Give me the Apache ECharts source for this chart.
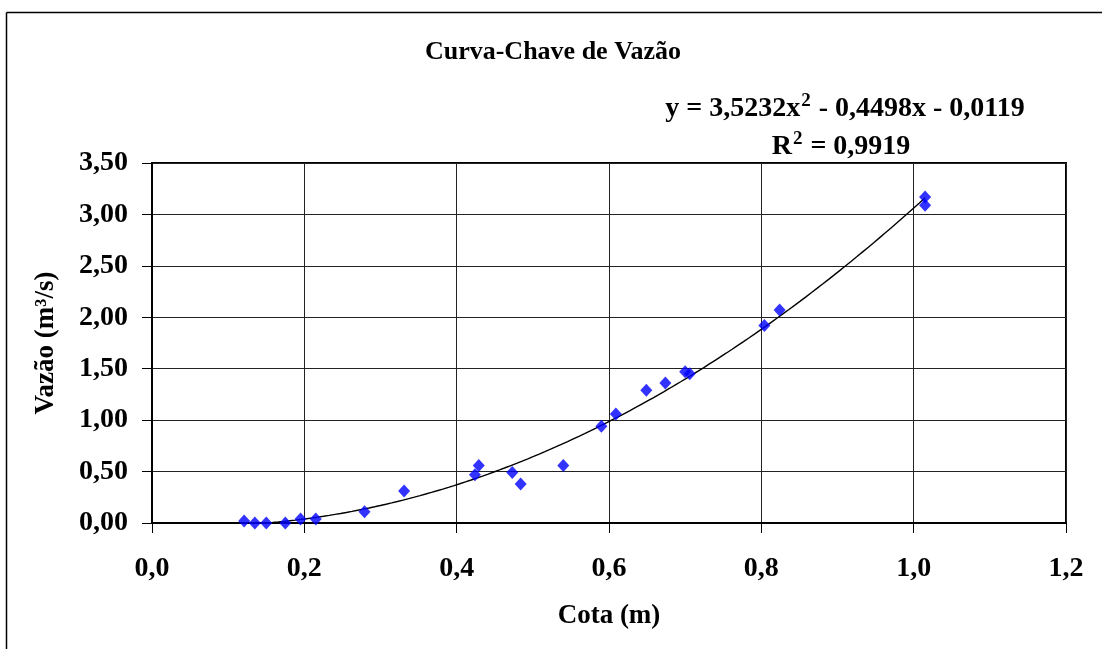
<!DOCTYPE html>
<html>
<head>
<meta charset="utf-8">
<script src="https://cdn.jsdelivr.net/npm/echarts@6/dist/echarts.min.js"></script>
<style>
  html, body { margin: 0; padding: 0; background: #fff; }
  #chart { width: 1102px; height: 649px; }
</style>
</head>
<body>
<div id="chart"></div>
<script>
// Measured stage (m) and discharge (m³/s)
const cota = [0.121, 0.135, 0.150, 0.175, 0.195, 0.215, 0.279, 0.331, 0.424, 0.429,
              0.473, 0.484, 0.540, 0.590, 0.609, 0.649, 0.674, 0.700, 0.706, 0.804,
              0.824, 1.015, 1.015];
const vazao = [0.02, 0.00, 0.00, 0.00, 0.04, 0.04, 0.11, 0.31, 0.47, 0.56,
               0.49, 0.38, 0.56, 0.94, 1.06, 1.29, 1.36, 1.47, 1.45, 1.92,
               2.07, 3.17, 3.09];
// Polynomial trend: y = a x² + b x + c
const trendCoef = [3.5232, -0.4498, -0.0119];
const r2 = 0.9919;
const xTicks = [0, 0.2, 0.4, 0.6, 0.8, 1.0, 1.2];
const yTicks = [0, 0.5, 1.0, 1.5, 2.0, 2.5, 3.0, 3.5];

const FONT = 'Liberation Serif';
const fmt = (v, d) => v.toFixed(d).replace('.', ',');

const xMin = Math.min(...cota), xMax = Math.max(...cota);
const trend = [];
const steps = 120;
for (let i = 0; i <= steps; i++) {
  const x = xMin + (xMax - xMin) * i / steps;
  trend.push([x, trendCoef[0] * x * x + trendCoef[1] * x + trendCoef[2]]);
}

const sign = v => (v < 0 ? ' - ' : ' + ');
const eqText = 'y = ' + fmt(trendCoef[0], 4) + 'x{sup|2}' +
  sign(trendCoef[1]) + fmt(Math.abs(trendCoef[1]), 4) + 'x' +
  sign(trendCoef[2]) + fmt(Math.abs(trendCoef[2]), 4);
const r2Text = 'R{sup|2} = ' + fmt(r2, 4);

const baseText = { fontFamily: FONT, fontWeight: 'bold', color: '#000' };
const rich = {
  sup: { fontFamily: FONT, fontWeight: 'bold', fontSize: 19, color: '#000', verticalAlign: 'top', padding: [0, 1, 14, 1] }
};

const chart = echarts.init(document.getElementById('chart'), null, { renderer: 'canvas' });
chart.setOption({
  backgroundColor: '#fff',
  animation: false,
  title: [
    { text: 'Curva-Chave de Vazão', left: 548, top: 34, textAlign: 'center',
      textStyle: Object.assign({ fontSize: 26 }, baseText) },
    { text: eqText, left: 840, top: 87, textAlign: 'center',
      textStyle: Object.assign({ fontSize: 28, rich: rich }, baseText) },
    { text: r2Text, left: 836, top: 125, textAlign: 'center',
      textStyle: Object.assign({ fontSize: 28, rich: rich }, baseText) }
  ],
  graphic: [
    { type: 'line', shape: { x1: 6.5, y1: 12.5, x2: 1102, y2: 12.5 }, style: { stroke: '#000', lineWidth: 1.5 } },
    { type: 'line', shape: { x1: 6.5, y1: 12.5, x2: 6.5, y2: 649 }, style: { stroke: '#000', lineWidth: 1.5 } }
  ],
  grid: {
    left: 152, right: 36, top: 163, bottom: 126,
    show: true, borderColor: '#000', borderWidth: 2, backgroundColor: '#fff'
  },
  xAxis: {
    type: 'value', min: xTicks[0], max: xTicks[xTicks.length - 1], interval: 0.2,
    name: 'Cota (m)', nameLocation: 'middle', nameGap: 80,
    nameTextStyle: Object.assign({ fontSize: 27 }, baseText),
    axisLine: { show: true, lineStyle: { color: '#000', width: 2 } },
    axisTick: { show: true, length: 10, lineStyle: { color: '#000', width: 1 } },
    axisLabel: Object.assign({ fontSize: 28, margin: 32, formatter: v => fmt(v, 1) }, baseText),
    splitLine: { show: true, lineStyle: { color: '#222', width: 1 } }
  },
  yAxis: {
    type: 'value', min: yTicks[0], max: yTicks[yTicks.length - 1], interval: 0.5,
    name: 'Vazão (m³/s)', nameLocation: 'middle', nameGap: 92, nameRotate: 90,
    nameTextStyle: Object.assign({ fontSize: 27 }, baseText),
    axisLine: { show: true, lineStyle: { color: '#000', width: 2 } },
    axisTick: { show: true, length: 10, lineStyle: { color: '#000', width: 1 } },
    axisLabel: Object.assign({ fontSize: 28, margin: 24, formatter: v => fmt(v, 2) }, baseText),
    splitLine: { show: true, lineStyle: { color: '#222', width: 1 } }
  },
  series: [
    {
      type: 'line', data: trend, showSymbol: false, symbol: 'none', smooth: false,
      lineStyle: { color: '#000', width: 1.4 }, clip: true, z: 2
    },
    {
      type: 'scatter', data: cota.map((x, i) => [x, vazao[i]]),
      symbol: 'diamond', symbolSize: [12, 13], clip: false,
      itemStyle: { color: '#0000ff' }, z: 3
    }
  ]
});
</script>
</body>
</html>
